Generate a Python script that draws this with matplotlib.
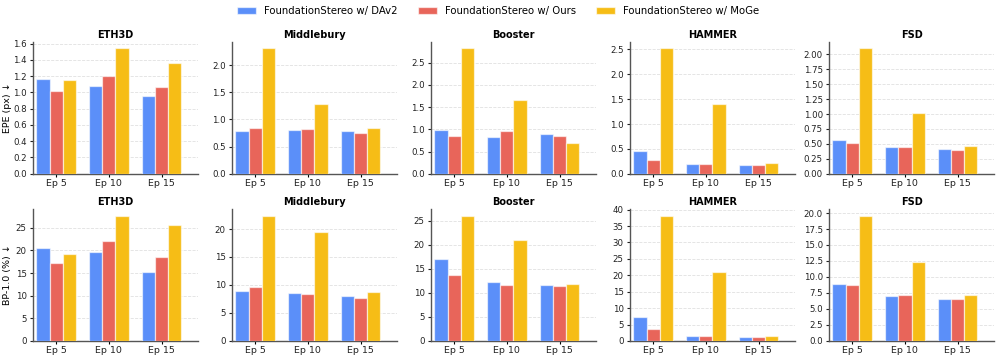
import matplotlib
matplotlib.use("Agg")
import matplotlib.pyplot as plt
from matplotlib.ticker import MaxNLocator
import numpy as np

epochs = ["Ep 5", "Ep 10", "Ep 15"]
datasets = ["ETH3D", "Middlebury", "Booster", "HAMMER", "FSD"]
methods = ["FoundationStereo w/ DAv2", "FoundationStereo w/ Ours", "FoundationStereo w/ MoGe"]
colors = ["#5B8FF9", "#E8655A", "#F6BD16"]

# EPE (px) per dataset: [DAv2, Ours, MoGe], each across epochs
epe_eth3d = [[1.16, 1.08, 0.96], [1.02, 1.20, 1.07], [1.15, 1.54, 1.36]]
epe_middlebury = [[0.78, 0.80, 0.79], [0.84, 0.82, 0.75], [2.31, 1.29, 0.85]]
epe_booster = [[0.99, 0.83, 0.90], [0.85, 0.97, 0.84], [2.82, 1.66, 0.69]]
epe_hammer = [[0.45, 0.19, 0.18], [0.27, 0.19, 0.17], [2.52, 1.40, 0.21]]
epe_fsd = [[0.57, 0.44, 0.41], [0.52, 0.45, 0.40], [2.10, 1.01, 0.47]]

# BP-1.0 (%)
bp_eth3d = [[20.6, 19.7, 15.2], [17.3, 22.1, 18.6], [19.1, 27.7, 25.6]]
bp_middlebury = [[9.0, 8.5, 8.1], [9.6, 8.3, 7.6], [22.4, 19.4, 8.7]]
bp_booster = [[17.0, 12.3, 11.7], [13.8, 11.7, 11.4], [26.1, 21.1, 11.8]]
bp_hammer = [[7.3, 1.4, 1.1], [3.7, 1.6, 1.1], [38.2, 21.0, 1.4]]
bp_fsd = [[8.9, 7.0, 6.5], [8.7, 7.2, 6.5], [19.6, 12.4, 7.2]]

epe_all = [epe_eth3d, epe_middlebury, epe_booster, epe_hammer, epe_fsd]
bp_all = [bp_eth3d, bp_middlebury, bp_booster, bp_hammer, bp_fsd]
row_labels = ["EPE (px) \u2193", "BP-1.0 (%) \u2193"]

plt.rcParams['font.family'] = ['DejaVu Sans']
fig, axes = plt.subplots(2, 5, figsize=(9.96, 3.57), dpi=100)
fig.subplots_adjust(left=0.0331, right=0.998, top=0.882, bottom=0.045,
                    wspace=0.206, hspace=0.27)

x = np.arange(len(epochs))
w = 0.25
for r, data in enumerate([epe_all, bp_all]):
    for c, ds in enumerate(datasets):
        ax = axes[r, c]
        vals = data[c]
        for i in range(3):
            ax.bar(x + (i - 1) * w, vals[i], w, color=colors[i],
                   edgecolor=(1, 1, 1, 0.6), linewidth=0.9, label=methods[i], zorder=3)
        mx = max(max(v) for v in vals)
        ax.set_ylim(0, mx * 1.05)
        ax.yaxis.set_major_locator(MaxNLocator(nbins=9, steps=[1, 2, 2.5, 5, 10]))
        ax.set_xlim(-0.44, 2.69)
        ax.set_xticks(x)
        ax.set_xticklabels(epochs, fontsize=6.8, color="#222222")
        ax.tick_params(axis="y", labelsize=6.2, colors="#222222", length=2.5, width=0.8, pad=2)
        ax.tick_params(axis="x", length=2.5, width=0.8, pad=1.5)
        ax.set_title(ds, fontsize=7, fontweight="bold", pad=3)
        ax.grid(axis="y", linestyle="--", color="#e0e0e0", linewidth=0.6, zorder=0)
        ax.set_axisbelow(True)
        for s in ["top", "right"]:
            ax.spines[s].set_visible(False)
        for s in ["left", "bottom"]:
            ax.spines[s].set_color("#555555")
            ax.spines[s].set_linewidth(1.0)
        if c == 0:
            ax.set_ylabel(row_labels[r], fontsize=6.8)
            ax.yaxis.set_label_coords(-0.13, 0.5)

handles, labels = axes[0, 0].get_legend_handles_labels()
fig.legend(handles, labels, loc="upper center", ncol=3, frameon=False,
           fontsize=7.3, bbox_to_anchor=(0.5, 1.008), handlelength=1.9,
           handleheight=0.7, handletextpad=0.75, columnspacing=2.0)

fig.savefig("out.png", dpi=100)
